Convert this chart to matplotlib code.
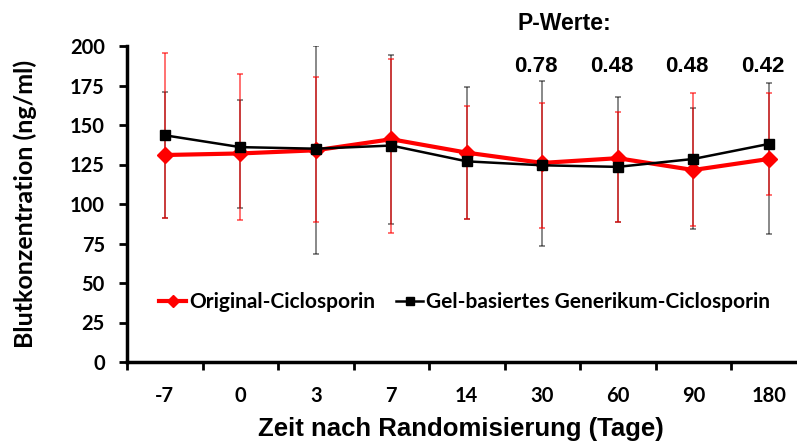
import numpy as np
import matplotlib.pyplot as plt

tage = ['-7', '0', '3', '7', '14', '30', '60', '90', '180']
original = [131, 132, 134, 141, 132.5, 126, 129, 121.5, 128.5]
original_oben = [195.5, 182, 180.5, 192, 162, 164, 158, 170.5, 170.5]
original_unten = [91, 90, 88.5, 81.5, 90.5, 84.5, 88.5, 86, 106]
generikum = [143.5, 136, 135, 137, 127, 124.5, 123.5, 128.5, 138]
generikum_oben = [171, 166, 200, 194, 174, 178, 168, 160.5, 176.5]
generikum_unten = [91, 97.5, 68.5, 87.5, 90.5, 73.5, 88.5, 84, 81]
p_tage = ['30', '60', '90', '180']
p_werte = ['0.78', '0.48', '0.48', '0.42']

x = np.arange(len(tage))
org = np.array(original)
gen = np.array(generikum)
err_org = [org - np.array(original_unten), np.array(original_oben) - org]
err_gen = [gen - np.array(generikum_unten), np.array(generikum_oben) - gen]

fig = plt.figure(figsize=(7.97, 4.45), dpi=100)
ax = fig.add_axes([127 / 797, 1 - 362 / 445, (806.5 - 127) / 797, (362 - 46) / 445])

ax.errorbar(x, gen, yerr=err_gen, fmt='none', ecolor=(0, 0, 0, 0.5),
            elinewidth=1.3, capsize=2.5, capthick=1.3, zorder=2)
ax.errorbar(x, org, yerr=err_org, fmt='none', ecolor=(1, 0, 0, 0.6),
            elinewidth=1.3, capsize=2.5, capthick=1.3, zorder=3)
ax.plot(x, org, color='#ff0000', lw=3, marker='D', ms=8, zorder=4,
        label='Original-Ciclosporin')
ax.plot(x, gen, color='black', lw=1.8, marker='s', ms=7, zorder=5,
        label='Gel-basiertes Generikum-Ciclosporin')

ax.set_xlim(-0.5, len(tage) - 0.5)
ax.set_ylim(0, 200)
ax.set_yticks(range(0, 201, 25))
ax.set_xticks(x)
ax.set_xticklabels(tage)
ax.set_xticks(np.arange(-0.5, len(tage), 1), minor=True)
ax.tick_params(axis='x', which='major', length=0, pad=17)
ax.tick_params(axis='x', which='minor', length=6, width=2, direction='out')
ax.tick_params(axis='y', length=6, width=2, direction='out', pad=10)
for lbl in ax.get_xticklabels() + ax.get_yticklabels():
    lbl.set_fontfamily('Lato')
    lbl.set_fontweight('bold')
    lbl.set_fontsize(14.5)

for s in ['top', 'right']:
    ax.spines[s].set_visible(False)
for s in ['left', 'bottom']:
    ax.spines[s].set_linewidth(2.5)

ax.set_xlabel('Zeit nach Randomisierung (Tage)', fontfamily='Liberation Sans',
              fontweight='bold', fontsize=18.5, labelpad=6)
ax.xaxis.set_label_coords(0.491, -0.175)
ax.set_ylabel('Blutkonzentration (ng/ml)', fontfamily='Lato',
              fontweight='bold', fontsize=18, labelpad=24)

ax.text(5.29, 214.5, 'P-Werte:', ha='center', va='center', fontsize=16.5,
        fontfamily='Liberation Sans', fontweight='bold', clip_on=False)
for t, p in zip(p_tage, p_werte):
    ax.text(tage.index(t) - 0.08, 187, p, ha='center', va='center', fontsize=16,
            fontfamily='Liberation Sans', fontweight='bold', clip_on=False)

ax.legend(loc='center', bbox_to_anchor=(0.497, 0.19), ncol=2, frameon=False,
          prop={'family': 'Lato', 'weight': 'bold', 'size': 15},
          handlelength=1.3, handletextpad=0.15, columnspacing=1.0,
          markerscale=0.75)

fig.savefig('out.png', dpi=100)
